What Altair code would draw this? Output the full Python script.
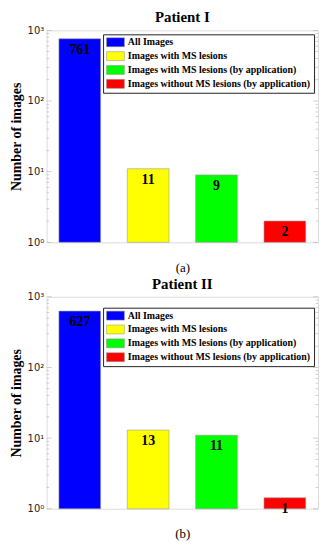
import altair as alt
import pandas as pd

categories = ["All Images", "Images with MS lesions",
              "Images with MS lesions (by application)",
              "Images without MS lesions (by application)"]
colors = ["#0000FF", "#FFFF00", "#00FF00", "#FF0000"]

p1_values = [761, 11, 9, 2]
p1_labels = ["761", "11", "9", "2"]
p2_values = [627, 13, 11, 1.43]
p2_labels = ["627", "13", "11", "1"]

major_ticks = [1, 10, 100, 1000]
minor_ticks = [2, 3, 4, 5, 6, 7, 8, 9, 20, 30, 40, 50, 60, 70, 80, 90,
               200, 300, 400, 500, 600, 700, 800, 900]

W, H = 274, 214
SERIF = "Liberation Serif"
sym_path = "M-2,-1H2V1H-2Z"


def panel(values, labels, title, sub, legend_y):
    df = pd.DataFrame({"cat": categories, "v": values, "lab": labels})
    yscale = alt.Scale(type="log", domain=[1, 1000], nice=False)
    x = alt.X("cat:N", sort=categories,
              scale=alt.Scale(paddingInner=0.39, paddingOuter=0.18),
              axis=alt.Axis(title=sub, labels=False, ticks=False, domain=False,
                            titleFont=SERIF, titleFontSize=13, titleFontWeight="normal",
                            titlePadding=19, titleColor="black"))
    bars = alt.Chart(df).mark_bar(stroke="#999", strokeWidth=0.6).encode(
        x=x,
        y=alt.Y("v:Q", scale=yscale,
                axis=alt.Axis(title="Number of images", values=major_ticks,
                              labelExpr="'10' + (datum.value==1?'⁰':datum.value==10?'¹':datum.value==100?'²':'³')",
                              labelFont="DejaVu Sans", labelFontSize=10, labelColor="#222",
                              ticks=False, domain=False, grid=False, labelPadding=3,
                              titleFont=SERIF, titleFontSize=14, titleFontWeight="bold",
                              titleColor="black", titlePadding=4)),
        y2=alt.datum(1),
        color=alt.Color("cat:N", sort=categories,
                        scale=alt.Scale(domain=categories, range=colors),
                        legend=alt.Legend(orient="none", legendX=57, legendY=legend_y, title=None,
                                          fillColor="white", strokeColor="#222",
                                          padding=3, labelFont=SERIF, labelFontWeight="bold",
                                          labelFontSize=10, labelColor="black",
                                          symbolType=sym_path, symbolSize=81,
                                          symbolOffset=4.5,
                                          symbolStrokeColor="#888", symbolStrokeWidth=0.5,
                                          symbolOpacity=1, rowPadding=2, labelLimit=400,
                                          labelOffset=7.5)),
    )
    text = alt.Chart(df).mark_text(baseline="top", dy=4, font=SERIF, fontWeight="bold",
                                   fontSize=14, color="black").encode(
        x=alt.X("cat:N", sort=categories),
        y=alt.Y("v:Q", scale=yscale),
        text="lab:N",
    )
    mj = pd.DataFrame({"t": major_ticks})
    mn = pd.DataFrame({"t": minor_ticks})
    tick_layers = []
    for d, size in ((mj, 5), (mn, 2.5)):
        for xpos in (size / 2, W - size / 2):
            tick_layers.append(
                alt.Chart(d).mark_tick(orient="horizontal", size=size, color="#aaa",
                                       thickness=0.8).encode(
                    y=alt.Y("t:Q", scale=yscale),
                    x=alt.value(xpos),
                )
            )
    return alt.layer(bars, text, *tick_layers).properties(
        width=W, height=H,
        title=alt.Title(title, font=SERIF, fontSize=15, fontWeight="bold",
                        color="black", offset=0),
    )


p1 = panel(p1_values, p1_labels, "Patient I", "(a)", 4)
p2 = panel(p2_values, p2_labels, "Patient II", "(b)", 11)

chart = alt.vconcat(p1, p2, spacing=1).resolve_scale(color="independent").properties(
    padding={"top": -1, "left": 0, "right": 0, "bottom": 0}
).configure_view(
    stroke="#b5b5b5", strokeWidth=1
).configure(background="white")

chart.save("out.html", embed_options={"renderer": "svg", "actions": False})
